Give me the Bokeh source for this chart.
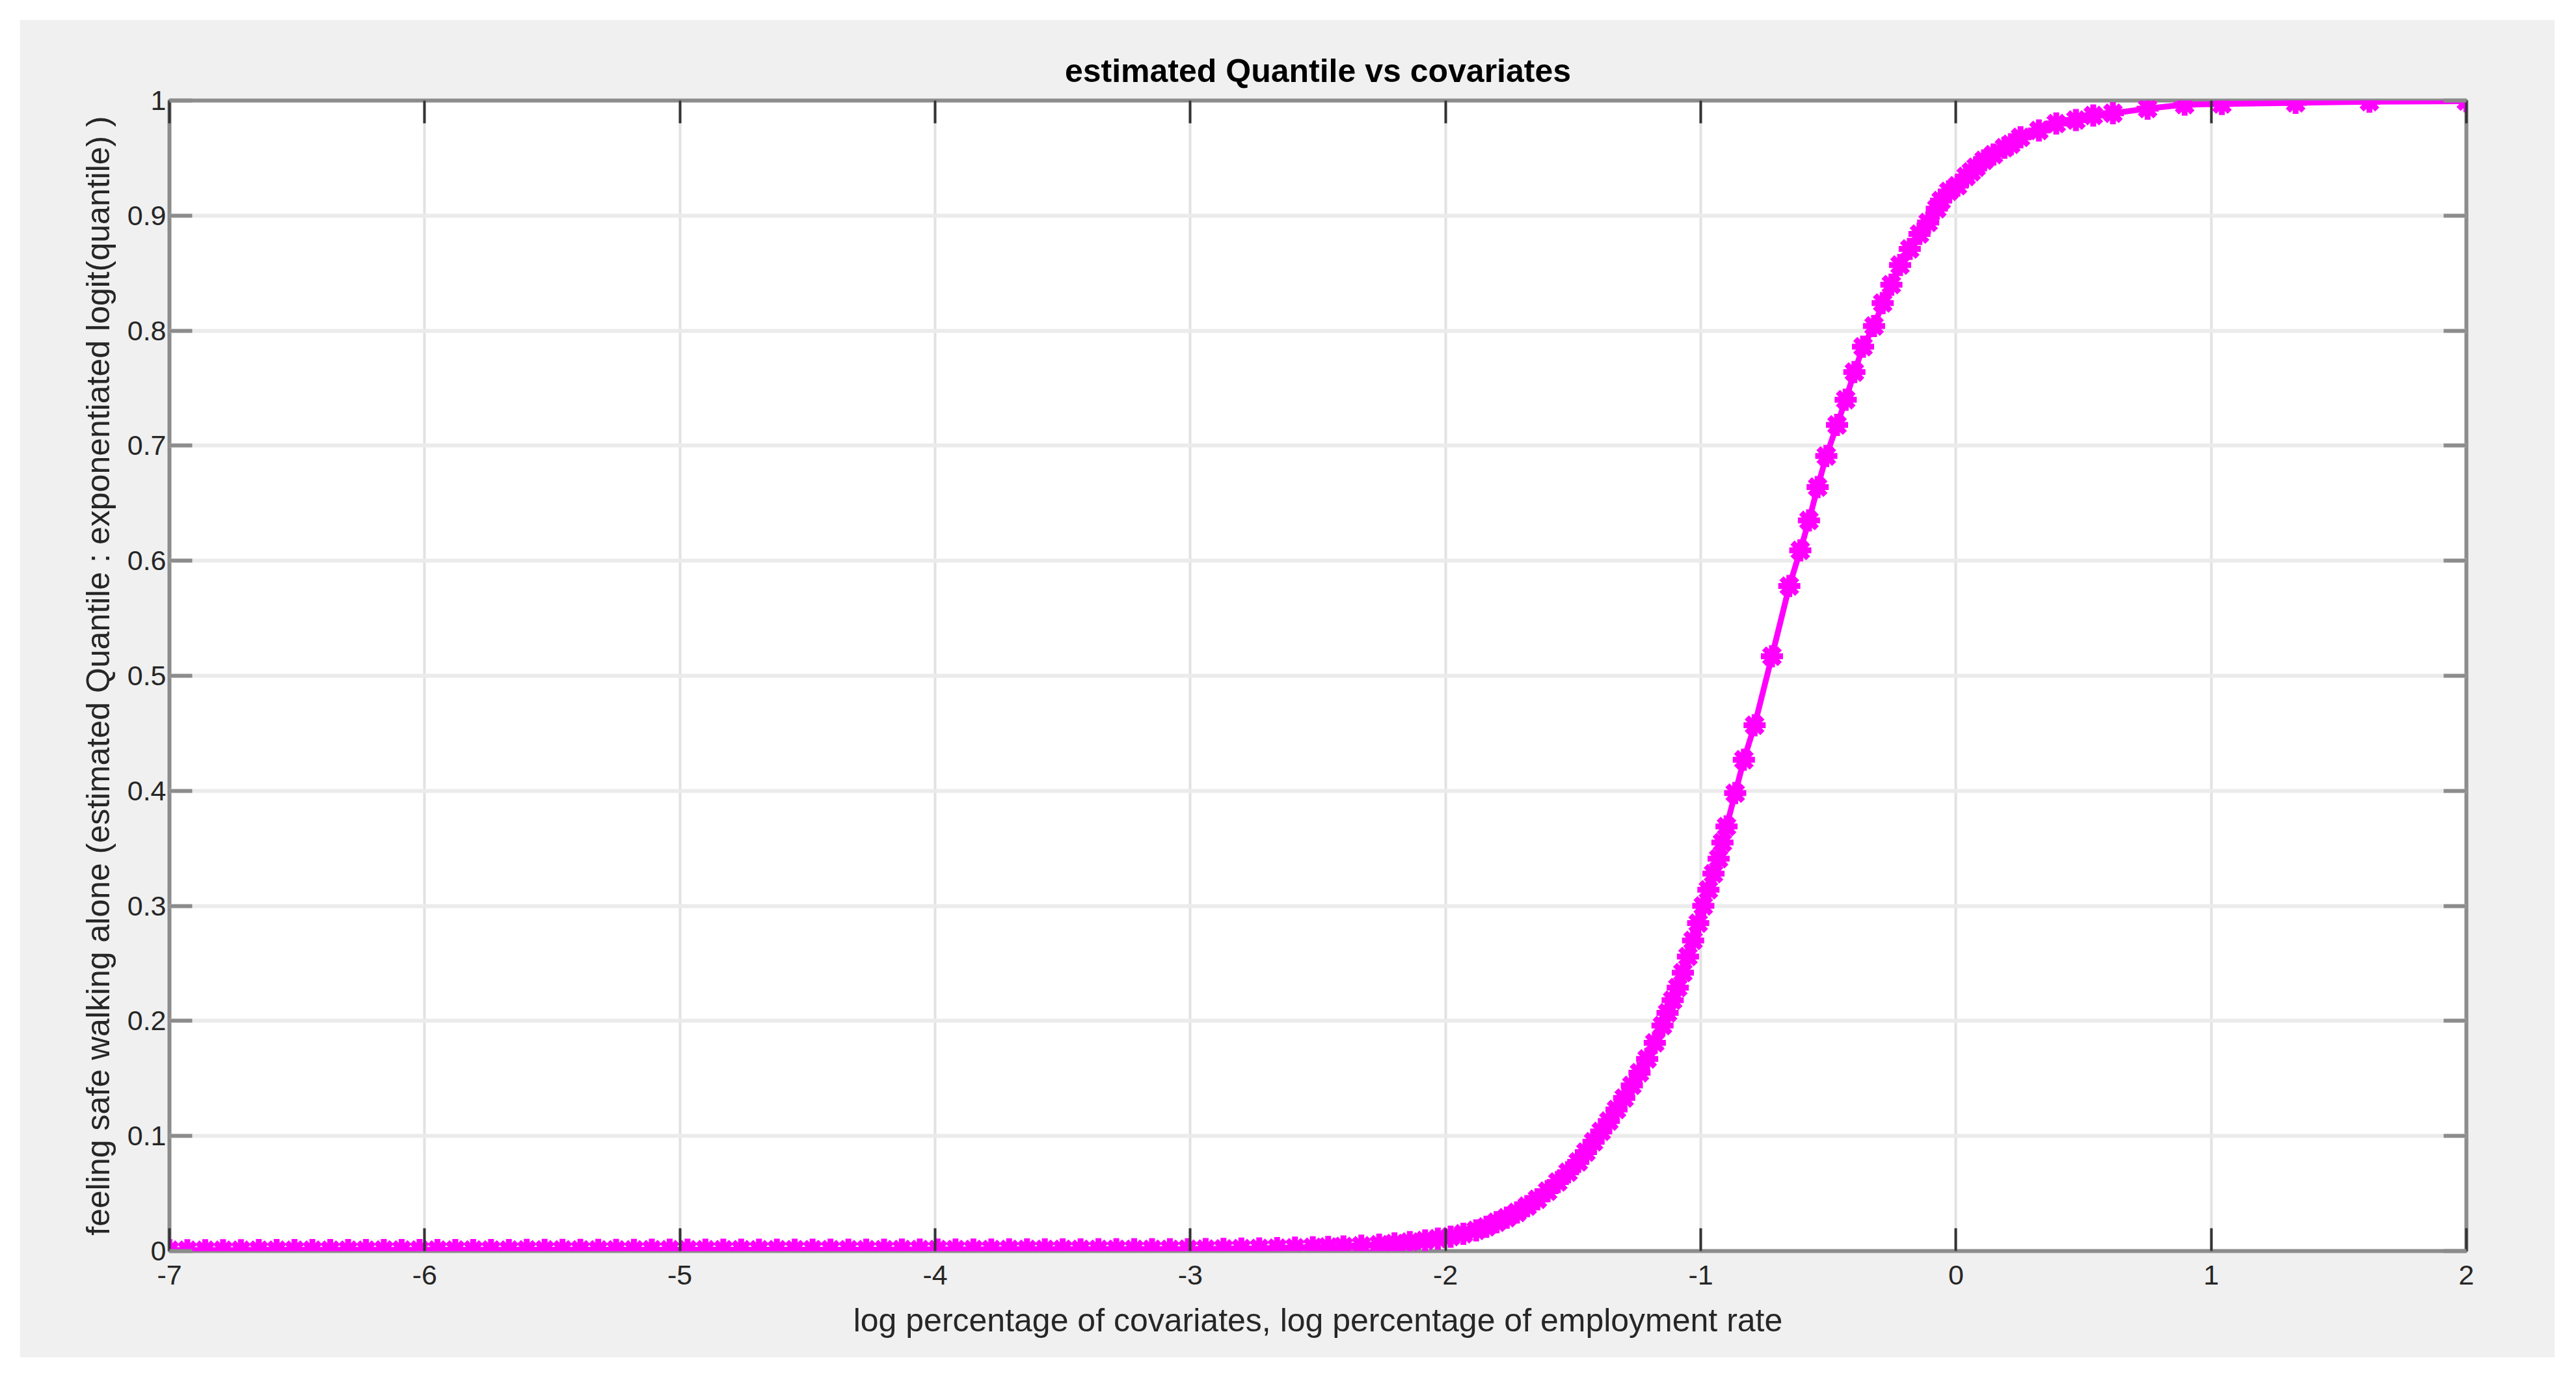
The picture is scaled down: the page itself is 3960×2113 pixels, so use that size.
from bokeh.plotting import figure
from bokeh.models import Range1d, FixedTicker, LinearAxis, ColumnDataSource
from bokeh.embed import file_html
from bokeh.resources import INLINE

TITLE = "estimated Quantile vs covariates"
X_LABEL = "log percentage of covariates, log percentage of employment rate"
Y_LABEL = "feeling safe walking alone (estimated Quantile : exponentiated logit(quantile) )"

X_TICKS = [-7, -6, -5, -4, -3, -2, -1, 0, 1, 2]
X_TICK_LABELS = ["-7", "-6", "-5", "-4", "-3", "-2", "-1", "0", "1", "2"]
Y_TICKS = [0, 0.1, 0.2, 0.3, 0.4, 0.5, 0.6, 0.7, 0.8, 0.9, 1]
Y_TICK_LABELS = ["0", "0.1", "0.2", "0.3", "0.4", "0.5", "0.6", "0.7", "0.8", "0.9", "1"]

# flat lower tail
X_TAIL = [-7.00, -6.93, -6.86, -6.79, -6.72, -6.65, -6.58, -6.51, -6.44, -6.37,
          -6.30, -6.23, -6.16, -6.09, -6.02, -5.95, -5.88, -5.81, -5.74, -5.67,
          -5.60, -5.53, -5.46, -5.39, -5.32, -5.25, -5.18, -5.11, -5.04, -4.97,
          -4.90, -4.83, -4.76, -4.69, -4.62, -4.55, -4.48, -4.41, -4.34, -4.27,
          -4.20, -4.13, -4.06, -3.99, -3.92, -3.85, -3.78, -3.71, -3.64, -3.57,
          -3.50, -3.43, -3.36, -3.29, -3.22, -3.15, -3.08]
Y_TAIL = [0.0007, 0.0007, 0.0007, 0.0007, 0.0007, 0.0008, 0.0008, 0.0008, 0.0008, 0.0008,
          0.0008, 0.0008, 0.0009, 0.0009, 0.0009, 0.0009, 0.0009, 0.0009, 0.0009, 0.0009,
          0.0010, 0.0010, 0.0010, 0.0010, 0.0010, 0.0010, 0.0010, 0.0011, 0.0011, 0.0011,
          0.0011, 0.0011, 0.0011, 0.0011, 0.0012, 0.0012, 0.0012, 0.0012, 0.0012, 0.0012,
          0.0012, 0.0013, 0.0013, 0.0013, 0.0013, 0.0013, 0.0013, 0.0014, 0.0014, 0.0014,
          0.0014, 0.0014, 0.0015, 0.0015, 0.0015, 0.0015, 0.0015]

# rising part
X_RISE = [-3.01, -2.94, -2.87, -2.80, -2.73, -2.66, -2.59, -2.52, -2.46, -2.40,
          -2.33, -2.26, -2.20, -2.14, -2.08, -2.03, -1.98, -1.93, -1.88, -1.84,
          -1.80, -1.76, -1.72, -1.68, -1.64, -1.60, -1.56, -1.52, -1.48, -1.45,
          -1.42, -1.39, -1.36, -1.33, -1.30, -1.27, -1.24, -1.21, -1.18, -1.15,
          -1.13, -1.11, -1.09, -1.07, -1.05, -1.03, -1.01, -0.99, -0.97, -0.95,
          -0.93, -0.915, -0.899]
Y_RISE = [0.0016, 0.0017, 0.0019, 0.0021, 0.0023, 0.0026, 0.0029, 0.0033, 0.0036, 0.0040,
          0.0046, 0.0055, 0.0066, 0.0078, 0.0092, 0.0108, 0.0125, 0.0150, 0.0180, 0.0210,
          0.0250, 0.0290, 0.0335, 0.0390, 0.0450, 0.0520, 0.0600, 0.0685, 0.0775, 0.0860,
          0.0950, 0.1040, 0.1130, 0.1230, 0.1330, 0.1440, 0.1550, 0.1670, 0.1810, 0.1960,
          0.2070, 0.2180, 0.2290, 0.2420, 0.2560, 0.2700, 0.2850, 0.3000, 0.3140, 0.3280,
          0.3410, 0.3550, 0.3690]

# upper part, separate markers
X_UP = [-0.865, -0.831, -0.789, -0.721, -0.653, -0.610, -0.576, -0.542, -0.508, -0.466,
        -0.432, -0.398, -0.364, -0.321, -0.287, -0.253, -0.219, -0.181, -0.143, -0.109,
        -0.075, -0.058, -0.028, 0.006, 0.040, 0.060, 0.079, 0.110, 0.147, 0.190,
        0.215, 0.253, 0.325, 0.393, 0.470, 0.538, 0.615, 0.751, 0.896, 1.042,
        1.331, 1.620, 2.000]
Y_UP = [0.398, 0.427, 0.457, 0.517, 0.578, 0.609, 0.635, 0.664, 0.691, 0.718,
        0.740, 0.764, 0.786, 0.804, 0.824, 0.840, 0.857, 0.871, 0.884, 0.894,
        0.906, 0.913, 0.921, 0.926, 0.934, 0.938, 0.942, 0.948, 0.953, 0.959,
        0.962, 0.968, 0.974, 0.980, 0.983, 0.987, 0.989, 0.993, 0.9965, 0.997,
        0.998, 0.999, 0.9995]

FONT = "Liberation Sans"
MAGENTA = "#ff00ff"
BG = "#f0f0f0"
BOX = "#8c8c8c"

source = ColumnDataSource(data=dict(x=X_TAIL + X_RISE + X_UP, y=Y_TAIL + Y_RISE + Y_UP))

p = figure(width=3897, height=2056, output_backend="svg", toolbar_location=None,
           x_range=Range1d(-7, 2), y_range=Range1d(0, 1),
           min_border_left=230, min_border_right=136, min_border_top=124, min_border_bottom=164,
           margin=(30, 0, 0, 30),
           background_fill_color="white", border_fill_color=BG, title=TITLE)

p.title.text_font = FONT
p.title.text_font_size = "50px"
p.title.text_font_style = "bold"
p.title.text_color = "black"
p.title.align = "center"
p.title.standoff = 35

p.outline_line_color = BOX
p.outline_line_width = 6

x_ticker = FixedTicker(ticks=X_TICKS)
y_ticker = FixedTicker(ticks=Y_TICKS)

xa = p.xaxis[0]
xa.ticker = x_ticker
xa.major_label_overrides = dict(zip(X_TICKS, X_TICK_LABELS))
xa.axis_label = X_LABEL
ya = p.yaxis[0]
ya.ticker = y_ticker
ya.major_label_overrides = dict(zip(Y_TICKS, Y_TICK_LABELS))
ya.axis_label = Y_LABEL

for ax in (xa, ya):
    ax.axis_line_color = None
    ax.major_tick_out = 0
    ax.major_tick_in = 35
    ax.minor_tick_line_color = None
    ax.major_label_text_font = FONT
    ax.major_label_text_font_size = "43px"
    ax.major_label_text_color = "#262626"
    ax.axis_label_text_font = FONT
    ax.axis_label_text_font_size = "50px"
    ax.axis_label_text_font_style = "normal"
    ax.axis_label_text_color = "#262626"

xa.major_tick_line_color = "#333333"
xa.major_tick_line_width = 4
xa.major_label_standoff = 22
xa.axis_label_standoff = 24
ya.major_tick_line_color = BOX
ya.major_tick_line_width = 6
ya.major_label_standoff = 5
ya.axis_label_standoff = 14

# box ticks on the top and right sides, without labels
top = LinearAxis(ticker=x_ticker, axis_line_color=None, major_tick_out=0, major_tick_in=35,
                 major_tick_line_color="#333333", major_tick_line_width=4,
                 minor_tick_line_color=None, major_label_text_font_size="1px",
                 major_label_text_color=None, major_label_text_alpha=0,
                 major_label_standoff=0)
right = LinearAxis(ticker=y_ticker, axis_line_color=None, major_tick_out=0, major_tick_in=35,
                   major_tick_line_color=BOX, major_tick_line_width=6,
                   minor_tick_line_color=None, major_label_text_font_size="1px",
                   major_label_text_color=None, major_label_text_alpha=0,
                   major_label_standoff=0)
p.add_layout(top, "above")
p.add_layout(right, "right")

p.xgrid.ticker = x_ticker
p.ygrid.ticker = y_ticker
p.xgrid.grid_line_color = "#e2e2e2"
p.xgrid.grid_line_width = 4
p.ygrid.grid_line_color = "#ebebeb"
p.ygrid.grid_line_width = 6

p.line("x", "y", source=source, line_color=MAGENTA, line_width=9)
p.scatter("x", "y", source=source, marker="asterisk", size=34,
          line_color=MAGENTA, line_width=9)

open("out.html", "w").write(file_html(p, INLINE))
